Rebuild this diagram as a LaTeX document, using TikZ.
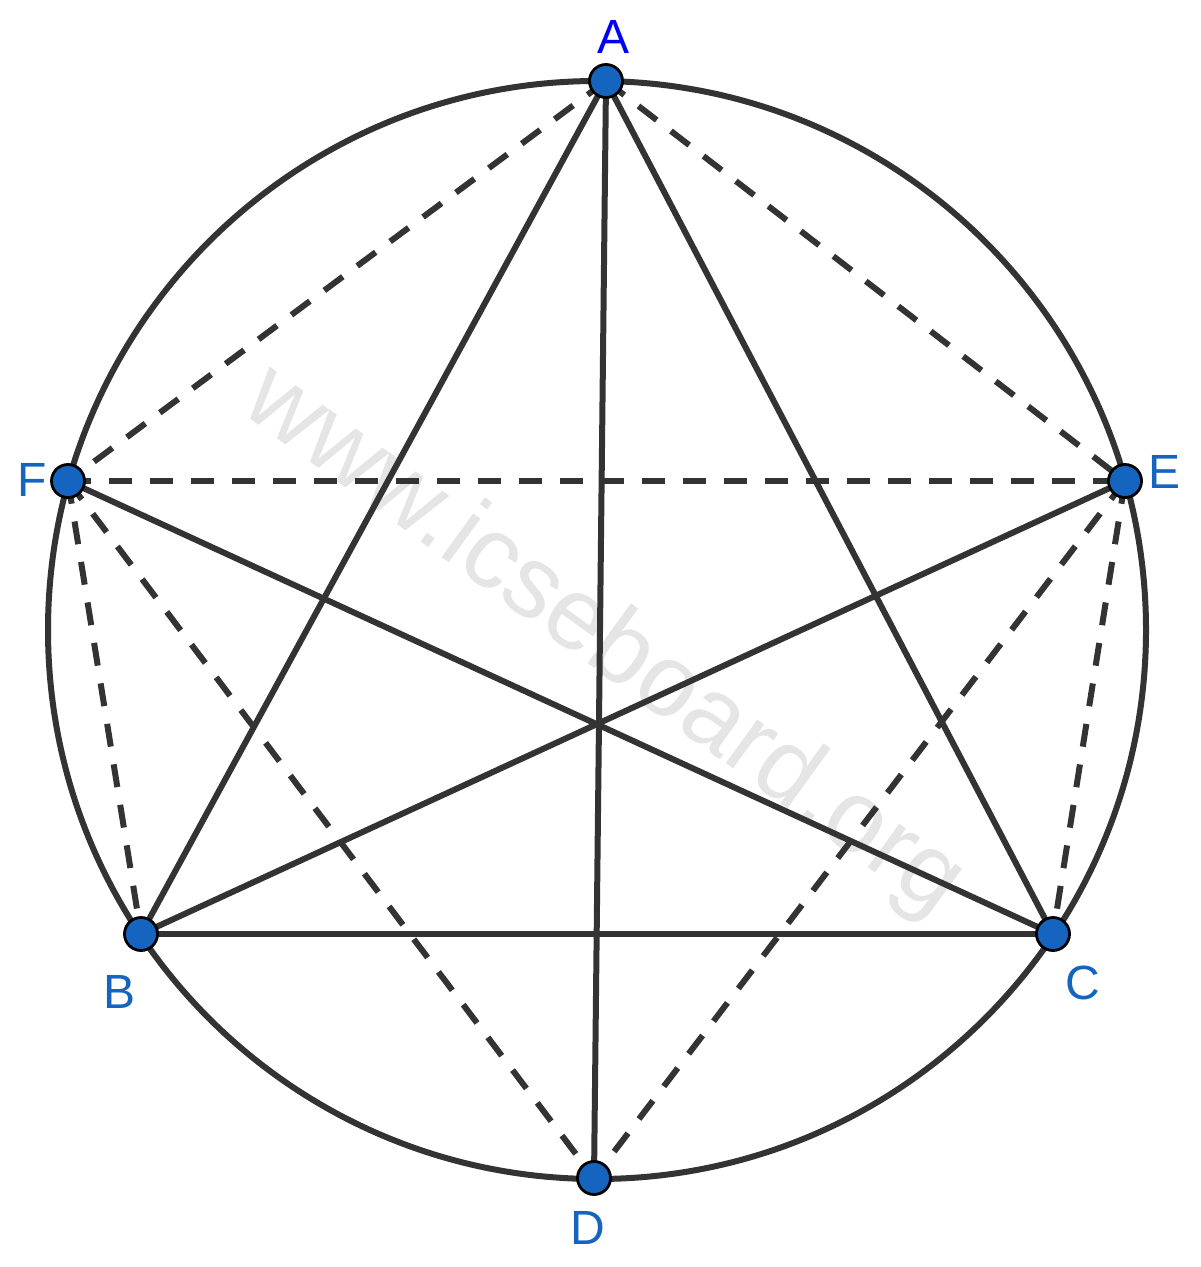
\documentclass[tikz,border=0pt]{standalone}
\usepackage{fontspec}
\setmainfont{Liberation Sans}
\begin{document}
\begin{tikzpicture}[x=0.5pt,y=-0.5pt,
  edge/.style={draw=black!80, line width=3pt},
  dashedge/.style={edge, dash pattern=on 11.5pt off 9pt},
  pt/.style={circle, fill={rgb,255:red,21;green,101;blue,192}, draw=black, line width=1.4pt, minimum size=16.5pt, inner sep=0pt},
  lbl/.style={text={rgb,255:red,21;green,101;blue,192}, font=\fontsize{24}{26}\selectfont, inner sep=0pt}]
\useasboundingbox (0,0) rectangle (1200,1267);
\fill[white] (0,0) rectangle (1200,1267);
\node[text=black!10, font=\fontsize{51}{51}\selectfont, rotate=-36] (wm) at (603,642) {www.icseboard.org};
\coordinate (O) at (597,630);
\draw[edge] (O) circle[radius=549];
\coordinate (a) at (606,81);
\coordinate (f) at (68,481);
\coordinate (e) at (1125,481);
\coordinate (b) at (141,934);
\coordinate (c) at (1053,934);
\coordinate (d) at (594,1178);
\draw[dashedge] (a) -- (f);
\draw[dashedge] (a) -- (e);
\draw[dashedge] (f) -- (e);
\draw[dashedge] (f) -- (b);
\draw[dashedge] (f) -- (d);
\draw[dashedge] (e) -- (c);
\draw[dashedge] (e) -- (d);
\draw[edge] (a) -- (b);
\draw[edge] (a) -- (c);
\draw[edge] (b) -- (c);
\draw[edge] (a) -- (d);
\draw[edge] (f) -- (c);
\draw[edge] (e) -- (b);
\node[pt] (A) at (a) {};
\node[pt] (F) at (f) {};
\node[pt] (E) at (e) {};
\node[pt] (B) at (b) {};
\node[pt] (C) at (c) {};
\node[pt] (D) at (d) {};
\node[lbl, text={rgb,255:red,0;green,0;blue,255}] (lA) at (613,37) {A};
\node[lbl] (lF) at (32,480) {F};
\node[lbl] (lE) at (1164,472) {E};
\node[lbl] (lB) at (120,992) {B};
\node[lbl] (lC) at (1083,983) {C};
\node[lbl] (lD) at (588,1228) {D};
\end{tikzpicture}
\end{document}
